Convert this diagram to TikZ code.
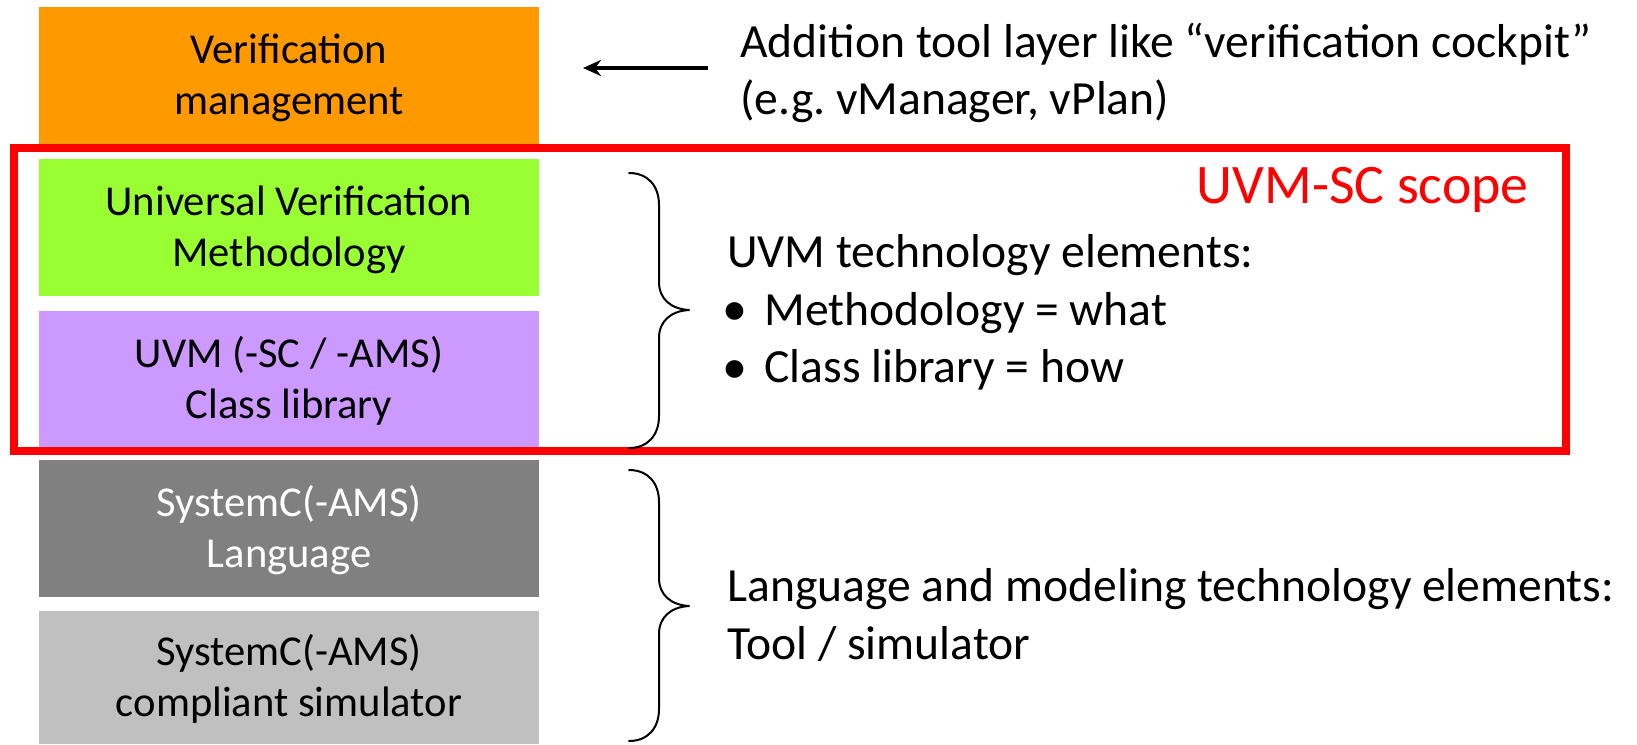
\documentclass[tikz,border=0pt]{standalone}
\usepackage{fontspec}
\setmainfont{Carlito}
\usetikzlibrary{arrows.meta}

\definecolor{mgmtorange}{HTML}{FF9900}
\definecolor{uvmgreen}{HTML}{99FF33}
\definecolor{libpurple}{HTML}{CC99FF}
\definecolor{langgray}{HTML}{808080}
\definecolor{simgray}{HTML}{C0C0C0}
\definecolor{scopered}{HTML}{FF0000}

% fixed line height/depth so every two-line layer label sits the same way
\newcommand\layerstrut{\rule[-5.5pt]{0pt}{24.5pt}}

\begin{document}
\frenchspacing
\begin{tikzpicture}[x=0.5pt,y=-0.5pt,
  layer/.style={rectangle, draw=none, minimum width=250pt, minimum height=68.5pt,
    inner sep=0pt, align=center, font=\fontsize{21.3}{25.5}\selectfont},
  note/.style={anchor=base west, inner sep=0pt, font=\fontsize{23.8}{28.5}\selectfont},
  bulletmark/.style={anchor=base, inner sep=0pt, font=\fontsize{25}{25}\selectfont},
  bracepath/.style={line width=1pt, line cap=round, line join=round}]

\useasboundingbox (0,0) rectangle (1637,744);

% layer stack
\node[layer, fill=mgmtorange] (mgmt) at (289,75)
  {\layerstrut Verification\\\layerstrut management};
\node[layer, fill=uvmgreen] (uvm) at (289,227.5)
  {\layerstrut Universal Verification\\\layerstrut Methodology};
\node[layer, fill=libpurple] (lib) at (289,379.5)
  {\layerstrut UVM (-SC / -AMS)\\\layerstrut Class library};
\node[layer, fill=langgray, text=white] (lang) at (289,528.5)
  {\layerstrut SystemC(-AMS)\\\layerstrut Language};
\node[layer, fill=simgray, minimum height=66.5pt] (sim) at (289,677.5)
  {\layerstrut SystemC(-AMS)\\\layerstrut compliant simulator};

% scope frame around methodology and class library
\node[draw=scopered, line width=4pt, minimum width=776pt, minimum height=151.5pt,
  inner sep=0pt] (scope) at (790,299.5) {};
\node[anchor=base east, inner sep=0pt, text=scopered,
  font=\fontsize{27.9}{32}\selectfont] (scopelabel) at (1529,203) {UVM-SC scope};

% tool layer note with arrow
\node[note] (tool1) at (740,57) {Addition tool layer like “verification cockpit”};
\node[note] (tool2) at (740,114) {(e.g. vManager, vPlan)};
\coordinate (arrowtail) at (708,68);
\coordinate (arrowhead) at (583,68);
\draw[line width=1.6pt, -{Stealth[length=9pt, width=8pt]}] (arrowtail) -- (arrowhead);

% UVM technology elements
\draw[bracepath] (629,173) .. controls (648,173) and (659,186) .. (659,205)
  -- (659,282) .. controls (659,299) and (671,309) .. (689,310)
  .. controls (671,311) and (659,321) .. (659,338)
  -- (659,416) .. controls (659,435) and (648,448) .. (629,448);
\node[note] (uvmhead) at (727,267) {UVM technology elements:};
\node[bulletmark] (bul1) at (735,325.5) {•};
\node[note] (uvmwhat) at (764,325) {Methodology = what};
\node[bulletmark] (bul2) at (735,383) {•};
\node[note] (uvmhow) at (764,382.5) {Class library = how};

% language and modeling technology elements
\draw[bracepath] (629,470) .. controls (648,470) and (659,483) .. (659,502)
  -- (659,578) .. controls (659,595) and (671,605) .. (689,606)
  .. controls (671,607) and (659,617) .. (659,634)
  -- (659,709) .. controls (659,728) and (648,741) .. (629,741);
\node[note] (langhead) at (727,601.5) {Language and modeling technology elements:};
\node[note] (langtool) at (727,659) {Tool / simulator};

\end{tikzpicture}
\end{document}
